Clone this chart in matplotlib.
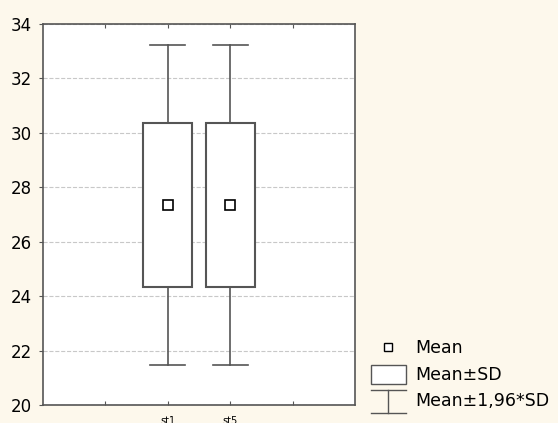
import matplotlib.pyplot as plt
from matplotlib.patches import Rectangle
from matplotlib.lines import Line2D
from matplotlib.legend_handler import HandlerBase

plt.rcParams['font.family'] = ['DejaVu Sans']

labels = ['st1', 'st5']
positions = [2, 3]
means = [27.35, 27.35]
sds = [3.0, 3.0]

bg = '#fdf8ec'
edge = '#555555'


class WhiskerHandler(HandlerBase):
    # I-beam shaped key for the 1.96*SD range
    def create_artists(self, legend, orig, xd, yd, w, h, fontsize, trans):
        xm = xd + w / 2
        top, bot = yd + h + 3, yd - 5
        return [
            Line2D([xd, xd + w], [top, top], color=edge, lw=1, transform=trans),
            Line2D([xd, xd + w], [bot, bot], color=edge, lw=1, transform=trans),
            Line2D([xm, xm], [bot, top], color=edge, lw=1, transform=trans),
        ]


class BoxHandler(HandlerBase):
    def create_artists(self, legend, orig, xd, yd, w, h, fontsize, trans):
        return [Rectangle((xd, yd - 3), w, h + 5, facecolor='white',
                          edgecolor=edge, lw=1, transform=trans)]


fig = plt.figure(figsize=(5.58, 4.23), dpi=100, facecolor=bg)
ax = fig.add_axes([43 / 558, 18 / 423, 312 / 558, 381 / 423])
ax.set_facecolor('white')

for x, m, s in zip(positions, means, sds):
    w = 0.79
    ax.add_patch(Rectangle((x - w / 2, m - s), w, 2 * s, facecolor='white',
                           edgecolor=edge, linewidth=1.5, zorder=3))
    lo, hi = m - 1.96 * s, m + 1.96 * s
    ax.plot([x, x], [m + s, hi], color=edge, lw=1.2, zorder=2)
    ax.plot([x, x], [lo, m - s], color=edge, lw=1.2, zorder=2)
    ax.plot([x - 0.28, x + 0.28], [hi, hi], color=edge, lw=1.2, zorder=2)
    ax.plot([x - 0.28, x + 0.28], [lo, lo], color=edge, lw=1.2, zorder=2)
    ax.plot(x, m, marker='s', ms=7, mfc='white', mec='black', mew=1.2, zorder=4)

ax.set_xlim(0, 5)
ax.set_ylim(20, 34)
ax.set_yticks(range(20, 35, 2))
ax.set_xticks([1, 2, 3, 4])
ax.set_xticklabels(['', labels[0], labels[1], ''], fontsize=7)
ax.tick_params(axis='y', labelsize=12, direction='out', length=3, color=edge, pad=5)
ax.tick_params(axis='x', direction='in', length=3, top=True, color=edge, pad=8)
ax.yaxis.grid(True, linestyle='--', color='#c8c8c8', linewidth=0.8)
ax.set_axisbelow(True)
for sp in ax.spines.values():
    sp.set_color(edge)
    sp.set_linewidth(1.2)

mean_key = Line2D([], [], marker='s', ls='none', ms=6, mfc='white', mec='black', mew=1)
box_key = Rectangle((0, 0), 1, 1)
whisk_key = Line2D([], [])
fig.legend([mean_key, box_key, whisk_key],
           ['Mean', 'Mean\u00b1SD', 'Mean\u00b11,96*SD'],
           handler_map={box_key: BoxHandler(), whisk_key: WhiskerHandler()},
           loc='lower left', bbox_to_anchor=(355 / 558, -3 / 423),
           frameon=False, fontsize=12.5, handlelength=2.05, handletextpad=0.5,
           labelspacing=0.5)

fig.savefig('out.png', dpi=100, facecolor=bg)
